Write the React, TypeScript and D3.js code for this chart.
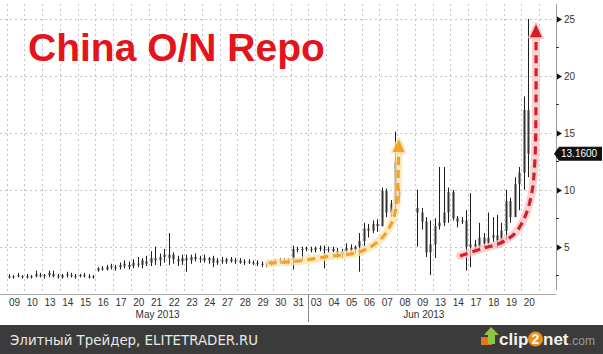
import React from "react";
import * as d3 from "d3";

const W = 603;
const H = 354;

const dates = [
  "2013-05-09", "2013-05-10", "2013-05-13", "2013-05-14", "2013-05-15", "2013-05-16", "2013-05-17",
  "2013-05-20", "2013-05-21", "2013-05-22", "2013-05-23", "2013-05-24",
  "2013-05-27", "2013-05-28", "2013-05-29", "2013-05-30", "2013-05-31",
  "2013-06-03", "2013-06-04", "2013-06-05", "2013-06-06", "2013-06-07", "2013-06-08", "2013-06-09",
  "2013-06-13", "2013-06-14", "2013-06-17", "2013-06-18", "2013-06-19", "2013-06-20",
];

// intraday bars per day: [open, high, low, close]
const sessions: number[][][] = [
  [[2.4, 2.6, 2.2, 2.3], [2.3, 2.5, 2.2, 2.4], [2.4, 2.7, 2.3, 2.5], [2.4, 2.5, 2.2, 2.3]],
  [[2.4, 2.6, 2.2, 2.3], [2.3, 2.5, 2.2, 2.4], [2.4, 2.9, 2.3, 2.6], [2.5, 2.7, 2.3, 2.4]],
  [[2.4, 2.6, 2.2, 2.5], [2.5, 2.9, 2.3, 2.7], [2.6, 2.9, 2.3, 2.4], [2.4, 2.6, 2.2, 2.3]],
  [[2.3, 2.6, 2.2, 2.5], [2.5, 2.8, 2.3, 2.6], [2.5, 2.7, 2.3, 2.4], [2.4, 2.6, 2.2, 2.4]],
  [[2.4, 2.6, 2.3, 2.5], [2.5, 2.7, 2.3, 2.4], [2.4, 2.6, 2.2, 2.3], [2.3, 2.5, 2.2, 2.4]],
  [[2.9, 3.2, 2.8, 3.1], [3.1, 3.3, 2.9, 3.0], [3.0, 3.4, 2.9, 3.2], [3.2, 3.5, 3.0, 3.3]],
  [[3.1, 3.4, 2.9, 3.2], [3.2, 3.6, 3.0, 3.4], [3.3, 3.8, 3.1, 3.5], [3.4, 3.7, 3.0, 3.2]],
  [[3.3, 3.9, 3.1, 3.6], [3.5, 4.1, 3.2, 3.4], [3.4, 4.0, 3.1, 3.8], [3.7, 4.2, 3.3, 3.5]],
  [[3.6, 4.6, 3.3, 4.0], [4.0, 5.0, 3.4, 3.8], [3.8, 4.4, 3.3, 4.1], [4.1, 4.8, 3.6, 4.3]],
  [[4.0, 6.2, 3.4, 4.3], [4.3, 4.5, 3.5, 3.9], [3.9, 4.2, 3.3, 3.7], [3.7, 4.3, 3.4, 4.0]],
  [[4.0, 4.3, 2.8, 3.8], [3.8, 4.3, 3.5, 4.1], [4.1, 4.4, 3.7, 3.9], [3.9, 4.2, 3.6, 4.0]],
  [[4.0, 4.3, 3.6, 3.8], [3.8, 4.1, 3.5, 4.0], [4.0, 4.2, 3.2, 3.6], [3.6, 4.0, 3.4, 3.8]],
  [[3.8, 4.1, 3.5, 3.7], [3.7, 4.0, 3.5, 3.9], [3.9, 4.1, 3.6, 3.7], [3.7, 4.0, 3.5, 3.8]],
  [[3.8, 4.0, 3.5, 3.6], [3.6, 3.9, 3.4, 3.7], [3.7, 3.9, 3.5, 3.6], [3.6, 3.8, 3.4, 3.5]],
  [[3.6, 3.8, 3.3, 3.5], [3.5, 3.7, 3.2, 3.4], [3.4, 3.6, 3.2, 3.5], [3.5, 3.8, 3.3, 3.6]],
  [[3.6, 3.9, 3.4, 3.7], [3.7, 4.0, 3.5, 3.8], [3.8, 4.0, 3.5, 3.7], [3.7, 4.0, 3.5, 3.9]],
  [[3.9, 5.1, 3.0, 4.8], [4.8, 5.0, 4.5, 4.7], [4.7, 5.0, 3.8, 4.8], [4.8, 5.0, 4.6, 4.9]],
  [[4.8, 5.0, 4.5, 4.7], [4.7, 5.0, 4.5, 4.9], [4.9, 5.1, 4.6, 4.8], [4.8, 5.1, 3.1, 4.7]],
  [[4.7, 5.0, 4.5, 4.8], [4.8, 5.0, 4.5, 4.6], [4.6, 4.9, 4.0, 4.3], [4.3, 4.8, 4.0, 4.6]],
  [[4.6, 5.3, 4.4, 4.9], [4.9, 5.2, 4.5, 4.7], [4.7, 5.1, 4.4, 5.0], [5.0, 6.2, 2.8, 5.5]],
  [[5.5, 7.1, 5.0, 6.6], [6.6, 7.0, 5.8, 6.4], [6.4, 7.3, 6.2, 7.0], [7.0, 7.4, 6.3, 6.8]],
  [[6.8, 10.2, 6.8, 9.9], [9.9, 10.1, 7.6, 8.0], [8.0, 9.1, 7.6, 8.8], [8.8, 15.1, 8.0, 12.4]],
  [[9.5, 10.2, 8.8, 9.8]],
  [[8.4, 10.0, 5.0, 8.0], [8.0, 8.4, 6.5, 7.2], [7.2, 7.6, 4.1, 4.5], [4.5, 7.3, 2.5, 5.2]],
  [[5.2, 7.5, 4.0, 6.8], [6.8, 12.0, 6.5, 7.1], [7.1, 12.0, 6.8, 8.0], [8.0, 10.2, 7.1, 9.8]],
  [[9.8, 10.0, 7.3, 7.5], [7.5, 7.7, 6.7, 7.2], [7.2, 7.6, 7.0, 7.3], [7.3, 8.2, 2.9, 5.0]],
  [[5.0, 9.7, 3.2, 5.2], [5.2, 5.6, 4.5, 5.0], [5.0, 7.1, 4.7, 5.8], [5.8, 6.2, 4.9, 5.3]],
  [[5.3, 8.0, 5.0, 5.8], [5.8, 7.6, 5.4, 6.0], [6.0, 7.8, 4.9, 5.5], [5.5, 7.1, 5.2, 6.4]],
  [[6.4, 10.0, 5.6, 9.0], [9.0, 9.3, 7.1, 7.6], [7.6, 11.1, 7.6, 10.5], [10.5, 12.0, 8.2, 11.5]],
  [[11.5, 18.2, 10.0, 17.0], [17.0, 25.0, 11.1, 13.16]],
];

const yTicks = [5, 10, 15, 20, 25];
const yMinorTicks = [2.5, 7.5, 12.5, 17.5, 22.5];

// annotation arrows, in [day position, rate] coordinates
const orangeArrow: [number, number][] = [
  [14.75, 3.57], [16.13, 3.69], [18.05, 4.12], [19.91, 4.56], [21.03, 5.59],
  [21.69, 7.09], [21.97, 8.85], [22.06, 11.75], [22.08, 13.3],
];
const redArrow: [number, number][] = [
  [25.54, 4.19], [26.85, 4.86], [27.79, 5.3], [28.64, 6.18], [29.2, 7.64],
  [29.58, 9.7], [29.76, 12.63], [29.82, 17.9], [29.82, 23.4],
];

const title = "China O/N Repo";
const footer = "Элитный Трейдер, ELITETRADER.RU";

const SLOTS = 4;
const axisFont = "'Liberation Sans', Arial, sans-serif";

export default function App() {
  const x0 = 6.7;
  const x1 = 539.2;
  const plotTop = 4;
  const plotBottom = 294;
  const axisX = 556;

  const x = d3.scaleBand<string>().domain(dates).range([x0, x1]).padding(0);
  const step = x.bandwidth();
  const xp = d3.scaleLinear().domain([0, dates.length]).range([x0, x1]);
  const y = d3.scaleLinear().domain([0, 25]).range([303.6, 19]);

  const bars: { x: number; o: number; h: number; l: number; c: number; k: string }[] = [];
  dates.forEach((d, i) => {
    sessions[i].forEach((b, j) => {
      bars.push({ x: (x(d) as number) + ((j + 0.5) * step) / SLOTS, o: b[0], h: b[1], l: b[2], c: b[3], k: d + j });
    });
  });

  const months = d3.groups(dates, (d) => d.slice(0, 7)).map(([key, ds]) => {
    const start = x(ds[0]) as number;
    const end = (x(ds[ds.length - 1]) as number) + step;
    const label = d3.timeFormat("%b %Y")(d3.timeParse("%Y-%m")(key) as Date);
    return { key, start, end, label };
  });

  const lastDay = sessions[sessions.length - 1];
  const lastClose = lastDay[lastDay.length - 1][3];

  const line = d3
    .line<[number, number]>()
    .x((p) => xp(p[0]))
    .y((p) => y(p[1]))
    .curve(d3.curveCatmullRom.alpha(0.5));

  const arrowHead = (pts: [number, number][], len: number, half: number) => {
    const a = pts[pts.length - 2];
    const b = pts[pts.length - 1];
    const ax = xp(a[0]), ay = y(a[1]);
    const bx = xp(b[0]), by = y(b[1]);
    const dx = bx - ax, dy = by - ay;
    const n = Math.hypot(dx, dy) || 1;
    const ux = dx / n, uy = dy / n;
    const tipX = bx + ux * len, tipY = by + uy * len;
    const px = -uy, py = ux;
    return `M${tipX},${tipY}L${bx + px * half},${by + py * half}L${bx - px * half},${by - py * half}Z`;
  };

  const arrows = [
    { pts: orangeArrow, color: "#f2a32a", halo: "#fbe3b0", k: "o" },
    { pts: redArrow, color: "#d41f26", halo: "#f6c4c4", k: "r" },
  ];

  return (
    <svg
      width={W}
      height={H}
      style={{ position: "absolute", left: 0, top: 0, background: "#fff" }}
    >
      <rect x={0} y={0} width={W} height={H} fill="#fff" />

      {/* vertical gridlines */}
      {d3.range(dates.length + 1).map((i) => (
        <line
          key={"vg" + i}
          x1={Math.round(xp(i)) + 0.5}
          x2={Math.round(xp(i)) + 0.5}
          y1={plotTop}
          y2={plotBottom}
          stroke="#c4c4c4"
          strokeDasharray="2,3"
        />
      ))}
      {/* horizontal gridlines */}
      {yTicks.map((t) => (
        <line
          key={"hg" + t}
          x1={0}
          x2={axisX - 4}
          y1={Math.round(y(t)) + 0.5}
          y2={Math.round(y(t)) + 0.5}
          stroke="#c4c4c4"
          strokeDasharray="2,3"
        />
      ))}

      {/* title */}
      <text
        x={28}
        y={61}
        fontFamily="'Liberation Sans', Arial, sans-serif"
        fontWeight="bold"
        fontSize={39}
        fill="#e3141b"
      >
        {title}
      </text>

      {/* bars */}
      {bars.map((b) => {
        const cx = Math.round(b.x) + 0.5;
        const top = y(Math.max(b.o, b.c));
        const bot = y(Math.min(b.o, b.c));
        return (
          <g key={b.k}>
            <line x1={cx} x2={cx} y1={y(b.h)} y2={y(b.l)} stroke="#1e1e1e" strokeWidth={1} />
            <rect x={cx - 1} y={top} width={2} height={Math.max(1, bot - top)} fill="#333" />
          </g>
        );
      })}

      {/* annotation arrows */}
      {arrows.map((a) => (
        <g key={a.k}>
          <path d={line(a.pts) as string} fill="none" stroke={a.halo} strokeWidth={8} strokeLinecap="round" opacity={0.75} />
          <path d={arrowHead(a.pts, 13, 6)} fill={a.halo} stroke={a.halo} strokeWidth={4} strokeLinejoin="round" opacity={0.75} />
          <path d={line(a.pts) as string} fill="none" stroke={a.color} strokeWidth={3.2} strokeDasharray="8,5" />
          <path d={arrowHead(a.pts, 13, 6)} fill={a.color} />
        </g>
      ))}

      {/* x axis baseline */}
      <line x1={0} x2={axisX} y1={plotBottom + 0.5} y2={plotBottom + 0.5} stroke="#a8a8a8" />

      {/* x tick labels */}
      {dates.map((d) => (
        <text
          key={"xl" + d}
          x={(x(d) as number) + step / 2 - 1}
          y={306}
          textAnchor="middle"
          fontFamily={axisFont}
          fontSize={10}
          fill="#333"
        >
          {d.slice(8)}
        </text>
      ))}
      {/* month labels and separators */}
      {months.map((m, i) => (
        <g key={m.key}>
          <text x={(m.start + m.end) / 2} y={318} textAnchor="middle" fontFamily={axisFont} fontSize={10} fill="#333">
            {m.label}
          </text>
          {i > 0 && (
            <line x1={Math.round(m.start) + 0.5} x2={Math.round(m.start) + 0.5} y1={plotBottom} y2={322} stroke="#888" />
          )}
        </g>
      ))}

      {/* right axis */}
      <line x1={axisX + 0.5} x2={axisX + 0.5} y1={plotTop} y2={290} stroke="#9a9a9a" />
      {yMinorTicks.map((t) => (
        <line key={"mt" + t} x1={axisX} x2={axisX + 3} y1={Math.round(y(t)) + 0.5} y2={Math.round(y(t)) + 0.5} stroke="#333" />
      ))}
      {yTicks.map((t) => {
        const ty = Math.round(y(t)) + 0.5;
        return (
          <g key={"yt" + t}>
            <path d={`M${axisX + 1},${ty - 3}L${axisX + 6},${ty}L${axisX + 1},${ty + 3}Z`} fill="#111" />
            <text x={axisX + 8} y={ty + 3.5} fontFamily={axisFont} fontSize={10} fill="#333">
              {t}
            </text>
          </g>
        );
      })}

      {/* last value tag */}
      {(() => {
        const ly = y(lastClose);
        return (
          <g>
            <path
              d={`M${axisX - 2},${ly}L${axisX + 3},${ly - 7}H${W - 1}V${ly + 7}H${axisX + 3}Z`}
              fill="#111"
            />
            <text x={axisX + 5} y={ly + 3.5} fontFamily={axisFont} fontSize={10} fill="#fff">
              {lastClose.toFixed(4)}
            </text>
          </g>
        );
      })()}

      {/* footer bar */}
      <rect x={0} y={325} width={W} height={H - 325} fill="#3b3b3b" />
      <text
        x={10}
        y={345}
        fontFamily="'DejaVu Sans', Verdana, sans-serif"
        fontSize={14}
        fill="#e8e8e8"
        textLength={248}
        lengthAdjust="spacingAndGlyphs"
      >
        {footer}
      </text>
      {/* clip2net logo */}
      <g>
        <rect x={481} y={337} width={11} height={8} fill="#e8731a" />
        <path d="M491,327 L499,335 L495,335 L495,344 L488,344 L488,335 L484,335 Z" fill="#8cc63f" />
        <text x={499} y={345} fontFamily="'Liberation Sans', Arial, sans-serif" fontWeight="bold" fontSize={17} fill="#f2f2f2">
          clip
        </text>
        <circle cx={535.5} cy={339} r={7.5} fill="#f08c1a" />
        <text x={535.5} y={344} textAnchor="middle" fontFamily="'Liberation Sans', Arial, sans-serif" fontWeight="bold" fontSize={14} fill="#fff">
          2
        </text>
        <text x={543} y={345} fontFamily="'Liberation Sans', Arial, sans-serif" fontWeight="bold" fontSize={17} fill="#f2f2f2">
          net
        </text>
        <text x={569} y={345} fontFamily="'Liberation Sans', Arial, sans-serif" fontSize={12} fill="#9a9a9a">
          .com
        </text>
      </g>
    </svg>
  );
}
